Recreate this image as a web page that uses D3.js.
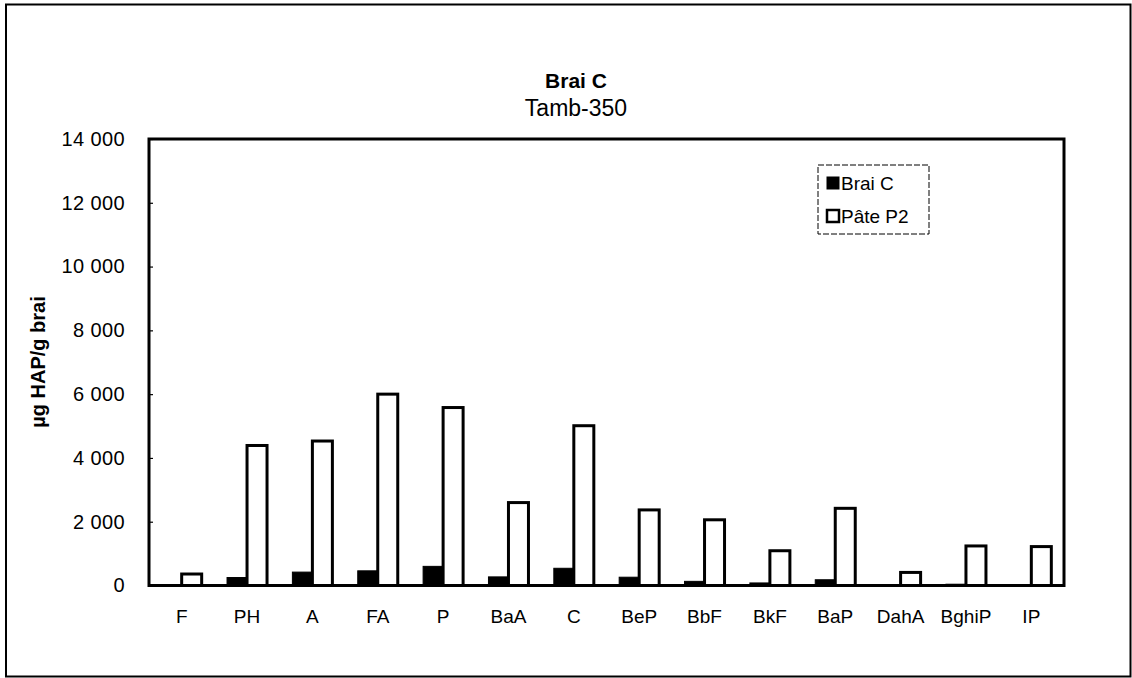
<!DOCTYPE html>
<html><head><meta charset="utf-8">
<script src="https://cdn.jsdelivr.net/npm/d3@7"></script>
<style>
html,body{margin:0;padding:0;background:#fff;}
svg{display:block;font-family:"Liberation Sans",Arial,sans-serif;}
</style></head>
<body>
<svg id="c" width="1132" height="678"></svg>
<script>
const categories = ["F","PH","A","FA","P","BaA","C","BeP","BbF","BkF","BaP","DahA","BghiP","IP"];
const seriesNames = ["Brai C","Pâte P2"];
const braiC  = [10, 250, 420, 460, 600, 270, 540, 260, 130, 80, 180, 20, 40, 30];
const pateP2 = [360, 4390, 4530, 6000, 5580, 2600, 5010, 2370, 2060, 1090, 2420, 410, 1240, 1220];
const yTicks = [0, 2000, 4000, 6000, 8000, 10000, 12000, 14000];
const yTickLabels = ["0","2 000","4 000","6 000","8 000","10 000","12 000","14 000"];

const svg = d3.select("#c");
const m = {left:149, right:1064, top:139, bottom:585.5};

// outer frame
svg.append("rect").attr("x",6).attr("y",4.5).attr("width",1124.5).attr("height",672)
  .attr("fill","none").attr("stroke","#000").attr("stroke-width",2);

const x0 = d3.scaleBand().domain(categories).range([m.left, m.right]).padding(0);
const x1 = d3.scaleBand().domain(seriesNames).range([0, x0.bandwidth()]).paddingInner(0).paddingOuter(0.634);
const y = d3.scaleLinear().domain([0,14000]).range([m.bottom, m.top]);

// titles
svg.append("text").attr("x",576).attr("y",88).attr("text-anchor","middle")
  .attr("font-weight","bold").attr("font-size",21).text("Brai C");
svg.append("text").attr("x",576).attr("y",116).attr("text-anchor","middle")
  .attr("font-size",23).text("Tamb-350");

// y axis label
svg.append("text").attr("transform","translate(45,362) rotate(-90)").attr("text-anchor","middle")
  .attr("font-weight","bold").attr("font-size",20).text("µg HAP/g brai");

// bars
const data = categories.map((c,i)=>({c, vals:[braiC[i], pateP2[i]]}));
const g = svg.append("g");
data.forEach(d=>{
  d.vals.forEach((v,j)=>{
    const s = seriesNames[j];
    g.append("rect")
      .attr("x", x0(d.c) + x1(s))
      .attr("y", y(v))
      .attr("width", x1.bandwidth())
      .attr("height", y(0) - y(v))
      .attr("fill", j===0 ? "#000" : "#fff")
      .attr("stroke","#000").attr("stroke-width", j===0 ? 1 : 3);
  });
});

// plot frame
svg.append("rect").attr("x",m.left).attr("y",m.top).attr("width",m.right-m.left).attr("height",m.bottom-m.top)
  .attr("fill","none").attr("stroke","#000").attr("stroke-width",3);

// y axis ticks and labels
const yAxis = d3.axisLeft(y).tickValues(yTicks).tickSize(-4).tickPadding(24)
  .tickFormat((d,i)=>yTickLabels[i]);
const ya = svg.append("g").attr("transform",`translate(${m.left},0)`).call(yAxis);
ya.select(".domain").remove();
ya.selectAll("line").attr("stroke","#000").attr("stroke-width",1.2);
ya.selectAll("text").attr("font-size",20).attr("letter-spacing","0.4px")
  .attr("font-family","Liberation Sans, Arial, sans-serif").attr("fill","#000");

// x axis labels
const xAxis = d3.axisBottom(x0).tickSize(0).tickPadding(24);
const xa = svg.append("g").attr("transform",`translate(0,${m.bottom})`).call(xAxis);
xa.select(".domain").remove();
xa.selectAll("text").attr("font-size",19).attr("font-family","Liberation Sans, Arial, sans-serif").attr("fill","#000");

// legend
const lg = svg.append("g");
lg.append("rect").attr("x",818).attr("y",165).attr("width",111).attr("height",69)
  .attr("fill","#fff").attr("stroke","#000").attr("stroke-width",1).attr("stroke-dasharray","6,2");
seriesNames.forEach((s,i)=>{
  const cy = 183 + i*33;
  lg.append("rect").attr("x",827).attr("y",cy-6).attr("width",12).attr("height",12)
    .attr("fill", i===0 ? "#000" : "#fff").attr("stroke","#000").attr("stroke-width", i===0?1:2.5);
  lg.append("text").attr("x",841).attr("y",cy).attr("dy","0.36em").attr("font-size",19).text(s);
});
</script>
</body></html>
